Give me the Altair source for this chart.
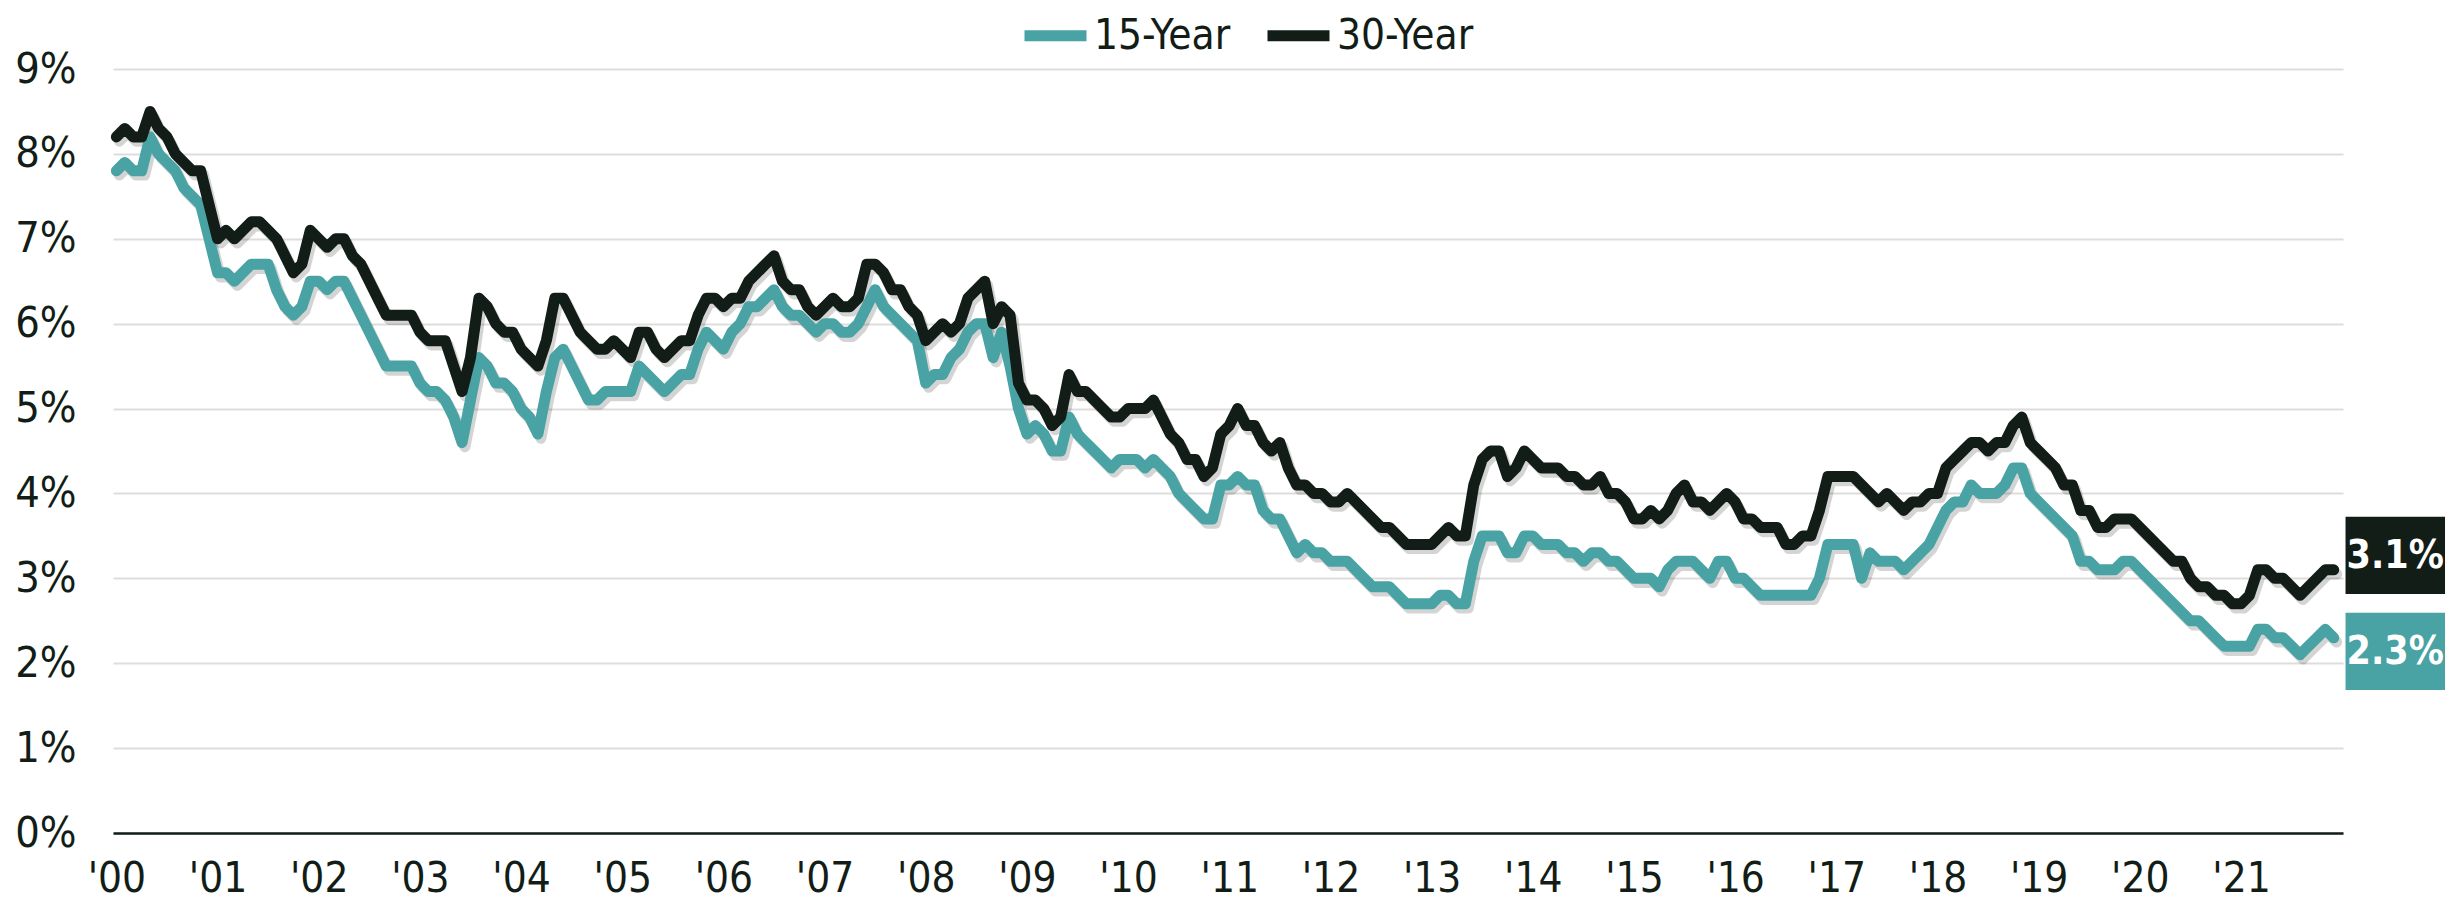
import json
import altair as alt
import pandas as pd

# ---------------- data (monthly, Jan 2000 - Dec 2021) ----------------
SERIES = ["15-Year", "30-Year"]
COLORS = ["#49A2A3", "#121D17"]

FIFTEEN = [
    7.8, 7.9, 7.8, 7.8, 8.2, 8.0, 7.9, 7.8, 7.6, 7.5, 7.4, 7.0,   # 2000
    6.6, 6.6, 6.5, 6.6, 6.7, 6.7, 6.7, 6.4, 6.2, 6.1, 6.2, 6.5,   # 2001
    6.5, 6.4, 6.5, 6.5, 6.3, 6.1, 5.9, 5.7, 5.5, 5.5, 5.5, 5.5,   # 2002
    5.3, 5.2, 5.2, 5.1, 4.9, 4.6, 5.1, 5.6, 5.5, 5.3, 5.3, 5.2,   # 2003
    5.0, 4.9, 4.7, 5.2, 5.6, 5.7, 5.5, 5.3, 5.1, 5.1, 5.2, 5.2,   # 2004
    5.2, 5.2, 5.5, 5.4, 5.3, 5.2, 5.3, 5.4, 5.4, 5.7, 5.9, 5.8,   # 2005
    5.7, 5.9, 6.0, 6.2, 6.2, 6.3, 6.4, 6.2, 6.1, 6.1, 6.0, 5.9,   # 2006
    6.0, 6.0, 5.9, 5.9, 6.0, 6.2, 6.4, 6.2, 6.1, 6.0, 5.9, 5.8,   # 2007
    5.3, 5.4, 5.4, 5.6, 5.7, 5.9, 6.0, 6.0, 5.6, 5.9, 5.5, 5.0,   # 2008
    4.7, 4.8, 4.7, 4.5, 4.5, 4.9, 4.7, 4.6, 4.5, 4.4, 4.3, 4.4,   # 2009
    4.4, 4.4, 4.3, 4.4, 4.3, 4.2, 4.0, 3.9, 3.8, 3.7, 3.7, 4.1,   # 2010
    4.1, 4.2, 4.1, 4.1, 3.8, 3.7, 3.7, 3.5, 3.3, 3.4, 3.3, 3.3,   # 2011
    3.2, 3.2, 3.2, 3.1, 3.0, 2.9, 2.9, 2.9, 2.8, 2.7, 2.7, 2.7,   # 2012
    2.7, 2.8, 2.8, 2.7, 2.7, 3.2, 3.5, 3.5, 3.5, 3.3, 3.3, 3.5,   # 2013
    3.5, 3.4, 3.4, 3.4, 3.3, 3.3, 3.2, 3.3, 3.3, 3.2, 3.2, 3.1,   # 2014
    3.0, 3.0, 3.0, 2.9, 3.1, 3.2, 3.2, 3.2, 3.1, 3.0, 3.2, 3.2,   # 2015
    3.0, 3.0, 2.9, 2.8, 2.8, 2.8, 2.8, 2.8, 2.8, 2.8, 3.0, 3.4,   # 2016
    3.4, 3.4, 3.4, 3.0, 3.3, 3.2, 3.2, 3.2, 3.1, 3.2, 3.3, 3.4,   # 2017
    3.6, 3.8, 3.9, 3.9, 4.1, 4.0, 4.0, 4.0, 4.1, 4.3, 4.3, 4.0,   # 2018
    3.9, 3.8, 3.7, 3.6, 3.5, 3.2, 3.2, 3.1, 3.1, 3.1, 3.2, 3.2,   # 2019
    3.1, 3.0, 2.9, 2.8, 2.7, 2.6, 2.5, 2.5, 2.4, 2.3, 2.2, 2.2,   # 2020
    2.2, 2.2, 2.4, 2.4, 2.3, 2.3, 2.2, 2.1, 2.2, 2.3, 2.4, 2.3,   # 2021
]

THIRTY = [
    8.2, 8.3, 8.2, 8.2, 8.5, 8.3, 8.2, 8.0, 7.9, 7.8, 7.8, 7.4,   # 2000
    7.0, 7.1, 7.0, 7.1, 7.2, 7.2, 7.1, 7.0, 6.8, 6.6, 6.7, 7.1,   # 2001
    7.0, 6.9, 7.0, 7.0, 6.8, 6.7, 6.5, 6.3, 6.1, 6.1, 6.1, 6.1,   # 2002
    5.9, 5.8, 5.8, 5.8, 5.5, 5.2, 5.6, 6.3, 6.2, 6.0, 5.9, 5.9,   # 2003
    5.7, 5.6, 5.5, 5.8, 6.3, 6.3, 6.1, 5.9, 5.8, 5.7, 5.7, 5.8,   # 2004
    5.7, 5.6, 5.9, 5.9, 5.7, 5.6, 5.7, 5.8, 5.8, 6.1, 6.3, 6.3,   # 2005
    6.2, 6.3, 6.3, 6.5, 6.6, 6.7, 6.8, 6.5, 6.4, 6.4, 6.2, 6.1,   # 2006
    6.2, 6.3, 6.2, 6.2, 6.3, 6.7, 6.7, 6.6, 6.4, 6.4, 6.2, 6.1,   # 2007
    5.8, 5.9, 6.0, 5.9, 6.0, 6.3, 6.4, 6.5, 6.0, 6.2, 6.1, 5.3,   # 2008
    5.1, 5.1, 5.0, 4.8, 4.9, 5.4, 5.2, 5.2, 5.1, 5.0, 4.9, 4.9,   # 2009
    5.0, 5.0, 5.0, 5.1, 4.9, 4.7, 4.6, 4.4, 4.4, 4.2, 4.3, 4.7,   # 2010
    4.8, 5.0, 4.8, 4.8, 4.6, 4.5, 4.6, 4.3, 4.1, 4.1, 4.0, 4.0,   # 2011
    3.9, 3.9, 4.0, 3.9, 3.8, 3.7, 3.6, 3.6, 3.5, 3.4, 3.4, 3.4,   # 2012
    3.4, 3.5, 3.6, 3.5, 3.5, 4.1, 4.4, 4.5, 4.5, 4.2, 4.3, 4.5,   # 2013
    4.4, 4.3, 4.3, 4.3, 4.2, 4.2, 4.1, 4.1, 4.2, 4.0, 4.0, 3.9,   # 2014
    3.7, 3.7, 3.8, 3.7, 3.8, 4.0, 4.1, 3.9, 3.9, 3.8, 3.9, 4.0,   # 2015
    3.9, 3.7, 3.7, 3.6, 3.6, 3.6, 3.4, 3.4, 3.5, 3.5, 3.8, 4.2,   # 2016
    4.2, 4.2, 4.2, 4.1, 4.0, 3.9, 4.0, 3.9, 3.8, 3.9, 3.9, 4.0,   # 2017
    4.0, 4.3, 4.4, 4.5, 4.6, 4.6, 4.5, 4.6, 4.6, 4.8, 4.9, 4.6,   # 2018
    4.5, 4.4, 4.3, 4.1, 4.1, 3.8, 3.8, 3.6, 3.6, 3.7, 3.7, 3.7,   # 2019
    3.6, 3.5, 3.4, 3.3, 3.2, 3.2, 3.0, 2.9, 2.9, 2.8, 2.8, 2.7,   # 2020
    2.7, 2.8, 3.1, 3.1, 3.0, 3.0, 2.9, 2.8, 2.9, 3.0, 3.1, 3.1,   # 2021
]

X_TICK_LABELS = ["'00", "'01", "'02", "'03", "'04", "'05", "'06", "'07", "'08", "'09", "'10",
                 "'11", "'12", "'13", "'14", "'15", "'16", "'17", "'18", "'19", "'20", "'21"]
Y_TICKS = [0, 1, 2, 3, 4, 5, 6, 7, 8, 9]
END_LABELS = ["2.3%", "3.1%"]
LABEL_NUDGE = [-0.16, 0.17]   # vertical separation of the end labels (rate units)

# ---------------- build tables ----------------
rows = []
for i, (a, b) in enumerate(zip(FIFTEEN, THIRTY)):
    rows.append({"m": i, "series": SERIES[0], "rate": a})
    rows.append({"m": i, "series": SERIES[1], "rate": b})
df = pd.DataFrame(rows)

last = len(THIRTY) - 1
lab_rows = []
for s, lab, v, nudge in zip(SERIES, END_LABELS, [FIFTEEN[-1], THIRTY[-1]], LABEL_NUDGE):
    c = v + nudge
    lab_rows.append({"series": s, "label": lab,
                     "x0": last + 1.4, "x1": last + 13.2, "xc": last + 7.3,
                     "yc": c, "y0": c - 0.455, "y1": c + 0.455})
labdf = pd.DataFrame(lab_rows)

FONT = "DejaVu Sans Condensed"
DARK = "#121D17"
W, H = 2230, 764

X_SCALE = alt.Scale(domain=[-0.4, 264.1], nice=False, zero=False)
Y_SCALE = alt.Scale(domain=[0, 9], nice=False, zero=True)
COLOR_SCALE = alt.Scale(domain=SERIES, range=COLORS)

X_AXIS = alt.Axis(values=list(range(0, 12 * len(X_TICK_LABELS), 12)),
                  labelExpr=f"{json.dumps(X_TICK_LABELS)}[round(datum.value / 12)]",
                  title=None, grid=False, ticks=False, domain=True,
                  domainColor=DARK, domainWidth=2.5,
                  labelFont=FONT, labelFontSize=42, labelColor=DARK,
                  labelPadding=25, labelFlush=False, labelOverlap=False)
Y_AXIS = alt.Axis(values=Y_TICKS, labelExpr="datum.value + '%'", title=None,
                  grid=True, gridColor="#dddddd", gridWidth=2, ticks=False, domain=False,
                  labelFont=FONT, labelFontSize=43, labelColor=DARK, labelPadding=37)

base = alt.Chart(df)

shadow = base.transform_calculate(
    sx="datum.m + 0.35", sy="datum.rate - 0.05"
).mark_line(stroke="#000000", strokeOpacity=0.17, strokeWidth=11,
            strokeJoin="round", strokeCap="round").encode(
    x=alt.X("sx:Q", scale=X_SCALE, axis=X_AXIS),
    y=alt.Y("sy:Q", scale=Y_SCALE, axis=Y_AXIS),
    detail="series:N",
)

def series_line(name):
    return base.transform_filter(alt.datum.series == name).mark_line(
        strokeWidth=11, strokeJoin="round", strokeCap="round"
    ).encode(
        x=alt.X("m:Q", scale=X_SCALE, axis=X_AXIS),
        y=alt.Y("rate:Q", scale=Y_SCALE, axis=Y_AXIS),
        color=alt.Color("series:N", scale=COLOR_SCALE,
                        legend=alt.Legend(title=None, orient="none", legendX=906, legendY=-70,
                                          direction="horizontal", symbolType="stroke",
                                          symbolStrokeWidth=11, symbolSize=3844,
                                          labelFont=FONT, labelFontSize=42, labelColor=DARK,
                                          labelOffset=2, columnPadding=14, labelLimit=400)),
    )

boxes = alt.Chart(labdf).mark_rect().encode(
    x=alt.X("x0:Q", scale=X_SCALE, axis=X_AXIS),
    x2="x1:Q",
    y=alt.Y("y0:Q", scale=Y_SCALE, axis=Y_AXIS),
    y2="y1:Q",
    fill=alt.Fill("series:N", scale=COLOR_SCALE, legend=None),
)

texts = alt.Chart(labdf).mark_text(
    font=FONT, fontSize=39, fontWeight="bold", color="white",
    align="center", baseline="middle", dy=1
).encode(
    x=alt.X("xc:Q", scale=X_SCALE, axis=X_AXIS),
    y=alt.Y("yc:Q", scale=Y_SCALE, axis=Y_AXIS),
    text="label:N",
)

chart = alt.layer(
    shadow, series_line(SERIES[0]), series_line(SERIES[1]), boxes, texts
).properties(
    width=W, height=H, background="white",
    padding={"left": 105, "top": 61, "right": 104, "bottom": 70},
    autosize=alt.AutoSizeParams(type="none"),
).configure_view(stroke=None)

chart.save("out.html", embed_options={"renderer": "svg", "actions": False})
